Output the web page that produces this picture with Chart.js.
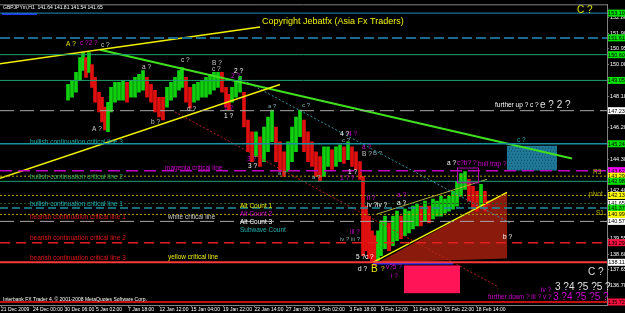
<!DOCTYPE html>
<html>
<head>
<meta charset="utf-8">
<script src="https://cdn.jsdelivr.net/npm/chart.js@4.4.1/dist/chart.umd.min.js"></script>
<style>
  html, body { margin: 0; padding: 0; background: #000; }
  #wrap { width: 625px; height: 313px; }
</style>
</head>
<body>
<div id="wrap"><canvas id="chart" width="625" height="313"></canvas></div>
<script>
// ---- data (x = bar position, y = price) ----
const xTickPos = [1, 33, 64.5, 96, 128, 159.5, 191, 223, 254.5, 286, 318, 349.5, 381, 413, 444.5, 476];
const xTickLabels = ['21 Dec 2009', '24 Dec 00:00', '30 Dec 06:00', '5 Jan 02:00', '7 Jan 18:00', '12 Jan 12:00',
  '15 Jan 04:00', '19 Jan 22:00', '22 Jan 14:00', '27 Jan 08:00', '1 Feb 02:00', '3 Feb 18:00',
  '8 Feb 12:00', '11 Feb 04:00', '15 Feb 22:00', '18 Feb 14:00'];
const yTicks = [152.86, 151.90, 150.95, 150.00, 149.05, 148.10, 147.15, 146.20, 145.25, 144.30, 143.35,
  142.40, 141.45, 140.50, 139.55, 138.60, 137.65, 136.70, 135.75];

const barX = [68, 72, 76, 80, 83, 86, 89, 92, 95, 99, 102, 105, 108, 111, 115, 119, 123, 127, 131, 135,
  139, 143, 147, 151, 155, 159, 163, 167, 171, 175, 179, 182, 186, 190, 194, 198, 202, 206, 210, 214,
  218, 222, 226, 229, 232, 236, 240, 244, 248, 252, 256, 260, 264, 268, 272, 276, 280, 284, 288, 292,
  296, 300, 304, 308, 312, 316, 320, 324, 328, 332, 336, 340, 344, 348, 352, 356, 360, 363, 366, 369,
  372, 375, 378, 381, 385, 389, 393, 397, 401, 405, 409, 413, 417, 421, 425, 429, 433, 437, 441, 445,
  449, 453, 457, 461, 465, 469, 473, 477, 481, 485, 488];
const barHigh = [148.81, 149.05, 149.53, 150.42, 150.72, 150.42, 150.72, 150.00, 149.23, 148.34, 148.04, 147.44,
  147.74, 148.63, 148.93, 148.93, 149.05, 148.93, 149.05, 149.23, 149.41, 149.65, 149.23, 148.81, 148.46,
  148.04, 148.04, 148.63, 148.93, 149.23, 149.65, 149.82, 149.23, 148.63, 148.81, 148.93, 149.05, 149.23,
  149.41, 149.53, 149.53, 149.53, 148.63, 148.22, 148.63, 149.05, 149.29, 148.34, 146.67, 145.96, 145.96,
  145.66, 146.25, 146.85, 147.26, 146.25, 145.36, 144.76, 145.36, 146.25, 146.85, 147.26, 146.67, 145.96,
  145.36, 144.76, 144.47, 145.06, 145.06, 144.88, 145.06, 145.18, 145.06, 145.36, 145.06, 144.76, 144.17,
  143.28, 141.49, 140.89, 140.00, 139.71, 140.00, 140.60, 140.89, 140.48, 140.89, 141.19, 140.89, 141.31,
  141.19, 141.49, 141.61, 141.49, 141.79, 141.49, 141.91, 141.79, 142.09, 141.91, 142.09, 142.38, 142.98,
  143.45, 143.57, 143.10, 142.68, 142.38, 142.80, 142.38, 141.81];
const barLow = [147.86, 148.04, 148.34, 149.05, 149.65, 149.23, 149.53, 148.63, 147.74, 147.15, 146.55, 146.07,
  145.96, 147.15, 147.74, 147.86, 147.86, 147.74, 148.04, 148.04, 148.34, 148.46, 148.04, 147.74, 147.15,
  146.85, 146.67, 147.44, 147.86, 148.04, 148.46, 148.63, 147.74, 147.38, 147.74, 147.86, 148.04, 148.04,
  148.22, 148.46, 148.63, 148.34, 147.44, 147.26, 147.74, 148.04, 148.34, 146.25, 144.76, 144.17, 144.47,
  143.87, 144.17, 144.76, 145.36, 144.17, 143.57, 143.28, 143.57, 144.17, 144.76, 145.66, 144.76, 144.17,
  143.87, 143.28, 142.98, 143.28, 143.87, 143.69, 143.87, 144.17, 144.05, 144.29, 143.87, 143.69, 143.10,
  138.51, 138.81, 138.34, 138.10, 137.92, 138.22, 138.51, 138.93, 138.81, 139.11, 139.41, 139.53, 139.71,
  139.88, 140.12, 140.30, 140.30, 140.60, 140.48, 140.72, 140.89, 140.89, 141.07, 141.19, 141.31, 141.49,
  142.09, 142.50, 141.79, 141.31, 141.19, 141.49, 141.19, 141.54];

// horizontal price levels and the colour of their box on the price axis
const levelPrice = [153.10, 151.61, 150.60, 149.05, 147.23, 145.24, 143.62, 143.29, 142.98, 142.13,
  141.65, 141.37, 140.99, 140.57, 139.29, 138.11, 135.72];
const levelKind = ['blue', 'navy', 'green', 'green', 'gray', 'teal', 'magenta', 'olive', 'green', 'olive',
  'bid', 'tealdash', 'olive', 'gray', 'reddash', 'red', 'darkred'];

// trend lines: [x1, price1, x2, price2, kind]
const trendLines = [
  [0, 150.06, 260, 152.26, 'yellow'],
  [0, 143.16, 280, 148.81, 'yellow'],
  [100, 150.90, 572, 144.35, 'lime'],
  [240, 149.17, 510, 140.48, 'tealdot'],
  [175, 147.15, 497, 136.67, 'reddot'],
  [373, 138.10, 507, 142.32, 'yellow'],
  [377, 141.01, 487, 143.10, 'olivethin'],
  [373, 138.04, 453, 138.04, 'bluebar'],
  [2, 153.04, 37, 153.04, 'bluebar']
];

// shapes
const triangle = [[378, 138.10], [507, 142.32], [507, 138.34]];
const magentaBox = [457, 143.81, 478, 142.92];
const blueBox = [507, 145.12, 557, 143.63];
const pinkBox = [404, 137.92, 460, 136.25];

// text notes: [x, price, text, style]
const notes = [
  [262, 152.62, 'Copyright Jebatfx (Asia Fx Traders)', 'title'],
  [577, 153.28, 'C ?', 'bigY'],
  [3, 153.45, 'GBPJPYm,H1  141.64 141.81 141.54 141.65', 'tiny'],
  [66, 151.25, 'A ?', 'Y'], [80, 151.31, 'c ?2 ?', 'M'], [101, 151.19, 'c ?', 'G'],
  [142, 149.82, 'a ?', 'G'], [181, 150.24, 'c ?', 'G'],
  [212, 150.06, 'B ?', 'G'], [212, 149.71, 'c ?', 'G'],
  [234, 149.59, '2 ?', 'W'], [231, 149.29, '2 ?', 'M'],
  [92, 146.13, 'A ?', 'G'], [151, 146.55, 'b ?', 'G'], [187, 147.32, 'd ?', 'G'],
  [224, 147.38, '1 ?', 'M'], [224, 146.91, '1 ?', 'W'],
  [268, 147.50, 'a ?', 'T2'], [302, 147.56, 'c ?', 'T2'],
  [247, 144.29, '3 ?', 'M'], [248, 143.87, '3 ?', 'W'],
  [278, 143.45, 'a ?', 'T2'], [312, 143.22, 'a ?', 'T2'],
  [340, 145.84, '4 ?', 'W'], [348, 145.84, '4 ?', 'M'], [342, 145.42, 'c ?', 'T2'],
  [362, 145.06, 'a ?', 'M'], [362, 144.64, 'B ?', 'G'], [373, 144.64, 'B ?', 'T2'],
  [348, 143.51, '1 ?', 'W'], [340, 143.16, '1 ? ?', 'M'],
  [165, 143.75, 'magenta critical line', 'M'],
  [367, 141.97, 'ii ?', 'M'], [367, 141.55, 'iv ?iv ?', 'W'],
  [397, 142.15, 'a ?', 'M'], [397, 141.67, 'a ?', 'W'],
  [240, 141.49, 'Alt Count 1', 'Y'], [240, 141.01, 'Alt Count 2', 'M'],
  [240, 140.54, 'Alt Count 3', 'W'], [240, 140.06, 'Subwave Count', 'T'],
  [350, 139.94, 'iii ?', 'M'], [340, 139.47, 'iv ? iii ?', 'T2'],
  [356, 138.40, '5 ?c ?', 'W'], [358, 137.68, 'd ?', 'W'],
  [371, 137.68, 'B', 'bigY'], [381, 137.68, '?', 'Y'], [386, 137.80, 'v?5 ?', 'M'], [391, 137.26, 'i ?', 'M'],
  [503, 139.59, 'b ?', 'W'],
  [588, 137.50, 'C ?', 'bigW'],
  [541, 136.43, 'iv ?', 'M'], [555, 136.61, '3 ?4 ?5 ?5 ?', 'bigW'],
  [488, 135.99, 'further down ? iii ? v ?', 'M'], [553, 135.99, '3 ?4 ?5 ?5 ?', 'bigM'],
  [495, 147.56, 'further up ?', 'W'], [530, 147.56, 'c ?', 'W'], [540, 147.56, 'e ? 2 ?', 'bigW'],
  [447, 144.05, 'a ?', 'W'], [457, 144.05, 'c?b? ?', 'M'], [478, 143.99, 'bull trap ?', 'M'],
  [517, 145.48, 'c ?', 'T'],
  [593, 143.51, 'R3', 'O'], [589, 142.20, 'pivot', 'O'], [596, 141.07, 'S1', 'O'],
  [168, 140.84, 'white critical line', 'G'],
  [168, 138.40, 'yellow critical line', 'Y'],
  [30, 145.36, 'bullish continuation critical line 3', 'T'],
  [30, 143.22, 'bullish continuation critical line 2', 'Gr'],
  [30, 141.61, 'bullish continuation critical line 1', 'T'],
  [30, 140.84, 'bearish continuation critical line 1', 'R'],
  [30, 139.53, 'bearish continuation critical line 2', 'R'],
  [30, 138.34, 'bearish continuation critical line 3', 'R'],
  [3, 135.89, 'Interbank FX Trader 4, \u00a9 2001-2008 MetaQuotes Software Corp.', 'tiny']
];

// ---- styles ----
const FONT = '"Liberation Sans", Arial, sans-serif';
const lineStyle = {
  blue:     { color: '#1E8CB4', width: 1, dash: [] },
  navy:     { color: '#1A6A90', width: 2, dash: [10, 4] },
  green:    { color: '#20A070', width: 1, dash: [] },
  gray:     { color: '#A8A8A8', width: 1, dash: [14, 6] },
  teal:     { color: '#1890A0', width: 1.5, dash: [] },
  magenta:  { color: '#C000C0', width: 1.5, dash: [12, 6] },
  olive:    { color: '#B0A000', width: 1, dash: [2, 2] },
  bid:      { color: '#2A5A2A', width: 1, dash: [2, 2] },
  tealdash: { color: '#2090A0', width: 1.5, dash: [8, 4] },
  reddash:  { color: '#E02020', width: 1.5, dash: [10, 6] },
  red:      { color: '#FF3838', width: 2, dash: [] },
  darkred:  { color: '#C01010', width: 2, dash: [] },
  yellow:   { color: '#F0F000', width: 1.5, dash: [] },
  lime:     { color: '#40E020', width: 2, dash: [] },
  tealdot:  { color: '#3090A0', width: 1, dash: [2, 2] },
  reddot:   { color: '#C02020', width: 1, dash: [2, 2] },
  olivethin:{ color: '#B0B040', width: 1, dash: [] },
  bluebar:  { color: '#2030FF', width: 2, dash: [] }
};
const levelBox = {
  blue: '#00E000', navy: '#00E000', green: '#00E000', gray: '#FFFFFF', teal: '#00E000',
  magenta: '#FF00FF', olive: '#FFFF00', bid: '#FFFFFF', tealdash: '#00E000', reddash: '#FF1040',
  red: '#FFFFFF', darkred: '#FF1040'
};
const noteStyle = {
  title: { color: '#F0F000', size: 9 },
  tiny:  { color: '#FFFFFF', size: 5 },
  W:     { color: '#FFFFFF', size: 6.5 },
  G:     { color: '#C8C8C8', size: 6.5 },
  M:     { color: '#D000D0', size: 6.5 },
  Y:     { color: '#E8E800', size: 6.5 },
  T:     { color: '#20B0B0', size: 6.5 },
  T2:    { color: '#80B0B0', size: 6 },
  Gr:    { color: '#30B060', size: 6.5 },
  R:     { color: '#E01818', size: 6.5 },
  O:     { color: '#B8B000', size: 6.5 },
  bigY:  { color: '#E8E800', size: 10 },
  bigW:  { color: '#E0E0E0', size: 10 },
  bigM:  { color: '#D000D0', size: 10 }
};

// ---- datasets ----
const candleColors = barX.map((x, i) => {
  if (i === 0) return '#10D010';
  const mid = (barHigh[i] + barLow[i]) / 2;
  const prev = (barHigh[i - 1] + barLow[i - 1]) / 2;
  return mid >= prev ? '#10D010' : '#E01010';
});

const datasets = [{
  type: 'bar',
  data: barX.map((x, i) => ({ x: x, y: [barLow[i], barHigh[i]] })),
  backgroundColor: candleColors,
  barThickness: 3,
  borderWidth: 0,
  grouped: false,
  order: 3
}];

function addLine(x1, p1, x2, p2, kind) {
  const s = lineStyle[kind];
  datasets.push({
    type: 'line',
    data: [{ x: x1, y: p1 }, { x: x2, y: p2 }],
    borderColor: s.color,
    borderWidth: s.width,
    borderDash: s.dash,
    pointRadius: 0,
    fill: false,
    tension: 0,
    order: 1
  });
}
levelPrice.forEach((p, i) => addLine(0, p, 607, p, levelKind[i]));
trendLines.forEach(t => addLine(t[0], t[1], t[2], t[3], t[4]));

// ---- drawing helper plugin ----
const mt4Plugin = {
  id: 'mt4',
  beforeDraw(chart) {
    const ctx = chart.ctx;
    ctx.save();
    ctx.fillStyle = '#000';
    ctx.fillRect(0, 0, chart.width, chart.height);
    ctx.restore();
  },
  beforeDatasetsDraw(chart) {
    const { ctx, chartArea: a, scales: { x, y } } = chart;
    ctx.save();
    ctx.beginPath();
    ctx.rect(a.left, a.top, a.right - a.left, a.bottom - a.top);
    ctx.clip();
    // red triangle
    ctx.fillStyle = '#8A1A0C';
    ctx.beginPath();
    triangle.forEach((pt, i) => {
      const px = x.getPixelForValue(pt[0]), py = y.getPixelForValue(pt[1]);
      if (i === 0) ctx.moveTo(px, py); else ctx.lineTo(px, py);
    });
    ctx.closePath();
    ctx.fill();
    // blue dotted box
    const bx1 = x.getPixelForValue(blueBox[0]), by1 = y.getPixelForValue(blueBox[1]);
    const bx2 = x.getPixelForValue(blueBox[2]), by2 = y.getPixelForValue(blueBox[3]);
    ctx.fillStyle = '#1F7898';
    ctx.fillRect(bx1, by1, bx2 - bx1, by2 - by1);
    ctx.fillStyle = '#0E4A60';
    for (let yy = by1 + 2; yy < by2; yy += 3) {
      for (let xx = bx1 + ((yy | 0) % 2) + 1; xx < bx2; xx += 3) ctx.fillRect(xx, yy, 1, 1);
    }
    // pink box
    const px1 = x.getPixelForValue(pinkBox[0]), py1 = y.getPixelForValue(pinkBox[1]);
    const px2 = x.getPixelForValue(pinkBox[2]), py2 = y.getPixelForValue(pinkBox[3]);
    ctx.fillStyle = '#FF1458';
    ctx.fillRect(px1, py1, px2 - px1, py2 - py1);
    ctx.restore();
  },
  afterDatasetsDraw(chart) {
    const { ctx, chartArea: a, scales: { x, y } } = chart;
    ctx.save();
    // magenta outline box
    const mx1 = x.getPixelForValue(magentaBox[0]), my1 = y.getPixelForValue(magentaBox[1]);
    const mx2 = x.getPixelForValue(magentaBox[2]), my2 = y.getPixelForValue(magentaBox[3]);
    ctx.strokeStyle = '#B000B0';
    ctx.lineWidth = 1;
    ctx.strokeRect(mx1 + 0.5, my1 + 0.5, mx2 - mx1, my2 - my1);
    // notes
    ctx.textBaseline = 'middle';
    ctx.textAlign = 'left';
    notes.forEach(n => {
      const s = noteStyle[n[3]];
      ctx.font = s.size + 'px ' + FONT;
      ctx.fillStyle = s.color;
      ctx.fillText(n[2], x.getPixelForValue(n[0]), y.getPixelForValue(n[1]));
    });
    // top border
    ctx.strokeStyle = '#808080';
    ctx.beginPath();
    ctx.moveTo(a.left, a.top + 0.5);
    ctx.lineTo(a.right, a.top + 0.5);
    ctx.stroke();
    ctx.restore();
  },
  afterDraw(chart) {
    const { ctx, chartArea: a, scales: { y } } = chart;
    ctx.save();
    ctx.font = '5.5px ' + FONT;
    ctx.textAlign = 'center';
    ctx.textBaseline = 'middle';
    levelPrice.forEach((p, i) => {
      const py = y.getPixelForValue(p);
      ctx.fillStyle = levelBox[levelKind[i]];
      ctx.fillRect(a.right + 1, py - 3.5, chart.width - a.right - 1, 7);
      ctx.fillStyle = '#000';
      ctx.fillText(p.toFixed(2), (a.right + chart.width) / 2 + 0.5, py + 0.5);
    });
    ctx.restore();
  }
};

Chart.defaults.font.family = FONT;

new Chart(document.getElementById('chart'), {
  type: 'bar',
  data: { datasets: datasets },
  plugins: [mt4Plugin],
  options: {
    responsive: false,
    animation: false,
    layout: { padding: { top: 1, left: 0, right: 0, bottom: 0 } },
    plugins: { legend: { display: false }, tooltip: { enabled: false } },
    scales: {
      x: {
        type: 'linear',
        min: 0,
        max: 607,
        offset: false,
        position: 'bottom',
        afterBuildTicks: s => { s.ticks = xTickPos.map(v => ({ value: v })); },
        afterFit: s => { s.height = 8; },
        grid: { display: true, offset: false, drawOnChartArea: false, tickLength: 2, color: '#808080' },
        border: { color: '#808080' },
        ticks: {
          color: '#FFFFFF',
          font: { size: 5 },
          align: 'start',
          padding: 0,
          maxRotation: 0,
          autoSkip: false,
          callback: (v, i) => xTickLabels[i]
        }
      },
      y: {
        type: 'linear',
        position: 'right',
        min: 135.54,
        max: 153.63,
        afterBuildTicks: s => { s.ticks = yTicks.map(v => ({ value: v })); },
        afterFit: s => { s.width = 18; },
        grid: { display: true, drawOnChartArea: false, tickLength: 2, color: '#808080' },
        border: { color: '#808080' },
        ticks: {
          color: '#FFFFFF',
          font: { size: 5.5 },
          padding: 1,
          autoSkip: false,
          callback: v => v.toFixed(2)
        }
      }
    }
  }
});
</script>
</body>
</html>
